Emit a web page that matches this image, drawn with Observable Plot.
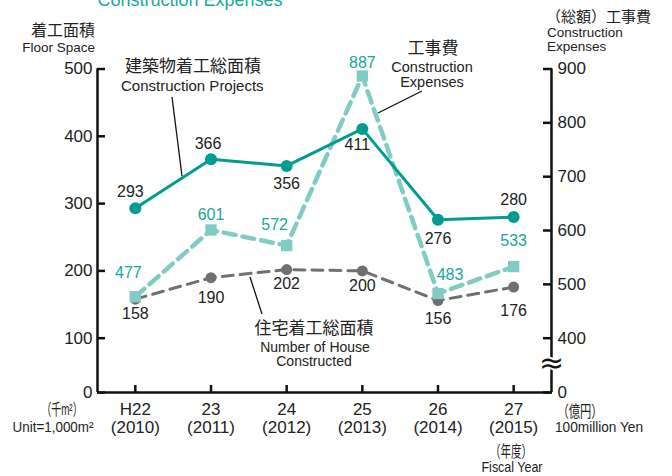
<!DOCTYPE html>
<html>
<head>
<meta charset="utf-8">
<script src="https://cdn.jsdelivr.net/npm/d3@7"></script>
<script src="https://cdn.jsdelivr.net/npm/@observablehq/plot@0.6"></script>
<style>
  html, body { margin: 0; padding: 0; background: #fff; }
  #wrap { position: relative; width: 672px; height: 476px; overflow: hidden; background: #fff; }
  #chart { position: absolute; left: 0; top: 0; }
  #ann { position: absolute; left: 0; top: 0; pointer-events: none; }
  #ann text { font-family: "Liberation Sans", Arial, "Noto Sans CJK JP", sans-serif; fill: #222; }
</style>
</head>
<body>
<div id="wrap">
  <div id="chart"></div>
  <svg id="ann" width="672" height="476">
    <text x="190" y="6" text-anchor="middle" font-size="18" style="fill:#19a99c">Construction Expenses</text>

    <text x="95" y="30" text-anchor="end" dominant-baseline="central" font-size="16">着工面積</text>
    <text x="95" y="52" text-anchor="end" font-size="13.5">Floor Space</text>

    <text x="546" y="16" text-anchor="start" dominant-baseline="central" font-size="15">（総額）工事費</text>
    <text x="547" y="37" text-anchor="start" font-size="13.5">Construction</text>
    <text x="547" y="51" text-anchor="start" font-size="13.5">Expenses</text>

    <text x="125" y="66" text-anchor="start" dominant-baseline="central" font-size="17">建築物着工総面積</text>
    <text x="121" y="90.5" text-anchor="start" font-size="15">Construction Projects</text>
    <line x1="172" y1="97" x2="182" y2="176" stroke="#111" stroke-width="1.3"/>

    <text x="433" y="48" text-anchor="middle" dominant-baseline="central" font-size="17">工事費</text>
    <text x="432" y="72" text-anchor="middle" font-size="14.5">Construction</text>
    <text x="432" y="87" text-anchor="middle" font-size="14.5">Expenses</text>
    <line x1="378" y1="113" x2="422" y2="91" stroke="#111" stroke-width="1.3"/>

    <text x="314" y="328" text-anchor="middle" dominant-baseline="central" font-size="17">住宅着工総面積</text>
    <text x="315" y="351.5" text-anchor="middle" font-size="14">Number of House</text>
    <text x="314" y="365.5" text-anchor="middle" font-size="14">Constructed</text>
    <line x1="250" y1="277" x2="262" y2="314" stroke="#111" stroke-width="1.3"/>

    <text x="62" y="409" text-anchor="middle" dominant-baseline="central" font-size="16" textLength="41" lengthAdjust="spacingAndGlyphs">（千m²）</text>
    <text x="53" y="432" text-anchor="middle" font-size="14.5" textLength="81" lengthAdjust="spacingAndGlyphs">Unit=1,000m²</text>
    <text x="580" y="411" text-anchor="middle" dominant-baseline="central" font-size="16" textLength="45" lengthAdjust="spacingAndGlyphs">（億円）</text>
    <text x="555" y="432" text-anchor="start" font-size="14.5" textLength="88" lengthAdjust="spacingAndGlyphs">100million Yen</text>
    <text x="511" y="451" text-anchor="middle" dominant-baseline="central" font-size="16" textLength="42" lengthAdjust="spacingAndGlyphs">（年度）</text>
    <text x="512" y="472" text-anchor="middle" font-size="14.5" textLength="61" lengthAdjust="spacingAndGlyphs">Fiscal Year</text>
  </svg>
</div>
<script>
// ---- data ----
const years = [2010, 2011, 2012, 2013, 2014, 2015];
const eraLabels = ["H22", "23", "24", "25", "26", "27"];
const floorSpace = [293, 366, 356, 411, 276, 280];      // 建築物着工総面積 (千m²)
const constructionExpenses = [477, 601, 572, 887, 483, 533]; // 工事費 (億円)
const houseFloor = [158, 190, 202, 200, 156, 176];      // 住宅着工総面積 (千m²)
const leftTicks = [0, 100, 200, 300, 400, 500];
const rightTicks = [0, 400, 500, 600, 700, 800, 900];

// ---- styling / layout ----
const FONT = '"Liberation Sans", Arial, "Noto Sans CJK JP", sans-serif';
const TEAL = "#009d90";
const LIGHT = "#80ccc4";
const LIGHT_TEXT = "#14a89b";
const GRAY = "#707070";

// right axis (broken between 0 and 400) expressed in left-axis units
const toLeft = d3.scaleLinear().domain([0, 400, 900]).range([0, 100, 500]);

// label offsets (dx, dy) per point
const floorOff = [[-5, -16], [-3, -15], [0, 18], [-5, 16], [0, 19], [0, -17]];
const expOff = [[-7, -24], [0, -15], [-12, -21], [0, -13], [12, -19], [0, -26]];
const houseOff = [[0, 15], [0, 20], [0, 14], [0, 15], [0, 18], [0, 24]];

const rows = years.map((y, i) => ({year: y, floor: floorSpace[i], exp: constructionExpenses[i], house: houseFloor[i], i}));

function labels(key, yFn, offs, fill) {
  return rows.map((r, i) => Plot.text([r], {
    x: "year", y: yFn, text: d => String(d[key]),
    dx: offs[i][0], dy: offs[i][1], fill, fontSize: 16, fontFamily: FONT
  }));
}

const chart = Plot.plot({
  width: 672,
  height: 476,
  marginTop: 68,
  marginBottom: 84,
  marginLeft: 97,
  marginRight: 121,
  style: {fontFamily: FONT, fontSize: "17px", color: "#222", background: "transparent", overflow: "visible"},
  x: {type: "linear", domain: [2009.5, 2015.5], axis: null},
  y: {type: "linear", domain: [0, 100, 500], range: [392, 337.7, 68.5], axis: null},
  marks: [
    // axis frame lines
    Plot.ruleY([0], {stroke: "#111", strokeWidth: 2.5}),
    Plot.ruleX([2009.5, 2015.5], {y1: 0, y2: 500, stroke: "#111", strokeWidth: 2.5}),
    // axes
    Plot.axisY(leftTicks, {anchor: "left", tickSize: -8, tickPadding: 13, strokeWidth: 2.5, stroke: "#111", fontSize: 17, label: null}),
    Plot.axisY(rightTicks.map(v => toLeft(v)), {anchor: "right", tickSize: -9, tickPadding: 15, strokeWidth: 2.5, stroke: "#111", fontSize: 17, label: null,
      tickFormat: d => String(Math.round(toLeft.invert(d)))}),
    Plot.axisX(years, {anchor: "bottom", tickSize: -7, tickPadding: 17, strokeWidth: 2.5, stroke: "#111", fontSize: 17, label: null, lineHeight: 1.06,
      tickFormat: d => `${eraLabels[years.indexOf(d)]}\n(${d})`}),
    // axis break on the right axis
    Plot.text(["≈"], {x: () => 2015.5, y: () => toLeft(215), text: d => d, fontSize: 30, fontFamily: "DejaVu Sans", fill: "#111", stroke: "white", strokeWidth: 4, paintOrder: "stroke"}),
    // house floor space (gray dashed)
    Plot.line(rows, {x: "year", y: "house", stroke: GRAY, strokeWidth: 3, strokeDasharray: "11,7"}),
    Plot.dot(rows, {x: "year", y: "house", r: 5.5, fill: GRAY}),
    // construction expenses (light teal dashed, squares)
    Plot.line(rows, {x: "year", y: d => toLeft(d.exp), stroke: LIGHT, strokeWidth: 4.5, strokeDasharray: "12,7"}),
    Plot.dot(rows, {x: "year", y: d => toLeft(d.exp), r: 6.4, symbol: "square", fill: LIGHT}),
    // construction projects floor space (teal solid)
    Plot.line(rows, {x: "year", y: "floor", stroke: TEAL, strokeWidth: 3}),
    Plot.dot(rows, {x: "year", y: "floor", r: 6, fill: TEAL}),
    // value labels
    ...labels("floor", "floor", floorOff, "#222"),
    ...labels("exp", d => toLeft(d.exp), expOff, LIGHT_TEXT),
    ...labels("house", "house", houseOff, "#222")
  ]
});
document.getElementById("chart").appendChild(chart);
</script>
</body>
</html>
